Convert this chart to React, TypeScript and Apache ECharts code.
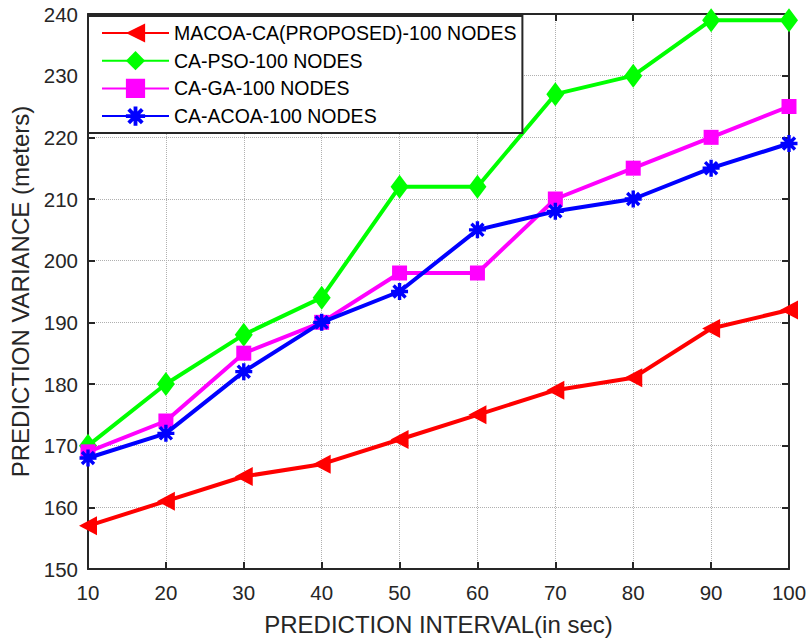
import React, { useEffect, useRef } from "react";
import * as echarts from "echarts";

const xValues = [10, 20, 30, 40, 50, 60, 70, 80, 90, 100];
const macoa = [157, 161, 165, 167, 171, 175, 179, 181, 189, 192];
const pso = [170, 180, 188, 194, 212, 212, 227, 230, 239, 239];
const ga = [169, 174, 185, 190, 198, 198, 210, 215, 220, 225];
const acoa = [168, 172, 182, 190, 195, 205, 208, 210, 215, 219];
const seriesNames = [
  "MACOA-CA(PROPOSED)-100 NODES",
  "CA-PSO-100 NODES",
  "CA-GA-100 NODES",
  "CA-ACOA-100 NODES",
];

const asterisk =
  "path://M0,8 L20,8 L20,12 L0,12 Z M8,0 L12,0 L12,20 L8,20 Z " +
  "M4.34,1.51 L18.49,15.66 L15.66,18.49 L1.51,4.34 Z " +
  "M18.49,4.34 L4.34,18.49 L1.51,15.66 L15.66,1.51 Z";

const FONT = "'Liberation Sans', Arial, sans-serif";

export default function App() {
  const ref = useRef<HTMLDivElement>(null);
  useEffect(() => {
    if (!ref.current) return;
    const chart = echarts.init(ref.current, undefined, { renderer: "svg" });
    const pair = (arr: number[]) => arr.map((v, i) => [xValues[i], v]);
    const axisCommon = {
      axisLine: { show: true, lineStyle: { color: "#262626", width: 2 } },
      axisTick: { show: true, inside: true, length: 7, lineStyle: { color: "#262626", width: 2 } },
    };
    chart.setOption({
      animation: false,
      backgroundColor: "#ffffff",
      textStyle: { fontFamily: FONT },
      grid: { left: 87, right: 21, top: 14, bottom: 74, containLabel: false },
      legend: {
        orient: "vertical",
        left: 88,
        top: 16,
        data: seriesNames,
        itemWidth: 67,
        itemHeight: 24,
        itemGap: 7.7,
        padding: [7, 6, 7, 13],
        backgroundColor: "#ffffff",
        borderColor: "#262626",
        borderWidth: 2,
        borderRadius: 0,
        textStyle: { fontFamily: FONT, fontSize: 19.5, color: "#000" },
      },
      xAxis: [
        {
          type: "value",
          min: 10,
          max: 100,
          interval: 10,
          name: "PREDICTION INTERVAL(in sec)",
          nameLocation: "middle",
          nameGap: 43,
          nameTextStyle: { fontFamily: FONT, fontSize: 24, color: "#262626" },
          ...axisCommon,
          axisLabel: { fontFamily: FONT, fontSize: 20.5, color: "#262626", margin: 13 },
          splitLine: { show: true, lineStyle: { color: "#b0b0b0", type: [1, 1], width: 1 } },
        },
        {
          type: "value",
          position: "top",
          min: 10,
          max: 100,
          interval: 10,
          ...axisCommon,
          axisLabel: { show: false },
          splitLine: { show: false },
        },
      ],
      yAxis: [
        {
          type: "value",
          min: 150,
          max: 240,
          interval: 10,
          name: "PREDICTION VARIANCE (meters)",
          nameLocation: "middle",
          nameGap: 56,
          nameTextStyle: { fontFamily: FONT, fontSize: 24, color: "#262626" },
          ...axisCommon,
          axisLabel: { fontFamily: FONT, fontSize: 20.5, color: "#262626", margin: 10 },
          splitLine: { show: true, lineStyle: { color: "#b0b0b0", type: [1, 1], width: 1 } },
        },
        {
          type: "value",
          position: "right",
          min: 150,
          max: 240,
          interval: 10,
          ...axisCommon,
          axisLabel: { show: false },
          splitLine: { show: false },
        },
      ],
      series: [
        {
          name: seriesNames[0],
          type: "line",
          data: pair(macoa),
          color: "#ff0000",
          lineStyle: { width: 4, color: "#ff0000" },
          symbol: "triangle",
          symbolRotate: 90,
          symbolSize: [19, 18],
          itemStyle: { color: "#ff0000" },
          z: 5,
        },
        {
          name: seriesNames[1],
          type: "line",
          data: pair(pso),
          color: "#00ff00",
          lineStyle: { width: 4, color: "#00ff00" },
          symbol: "diamond",
          symbolSize: [18, 24],
          itemStyle: { color: "#00ff00" },
          z: 2,
        },
        {
          name: seriesNames[2],
          type: "line",
          data: pair(ga),
          color: "#ff00ff",
          lineStyle: { width: 4, color: "#ff00ff" },
          symbol: "rect",
          symbolSize: 15,
          itemStyle: { color: "#ff00ff" },
          z: 3,
        },
        {
          name: seriesNames[3],
          type: "line",
          data: pair(acoa),
          color: "#0000ff",
          lineStyle: { width: 4, color: "#0000ff" },
          symbol: asterisk,
          symbolSize: 17,
          itemStyle: { color: "#0000ff" },
          z: 4,
        },
      ],
    });
    return () => chart.dispose();
  }, []);
  return (
    <div
      ref={ref}
      style={{ position: "fixed", left: 0, top: 0, width: 810, height: 643, background: "#fff" }}
    />
  );
}
